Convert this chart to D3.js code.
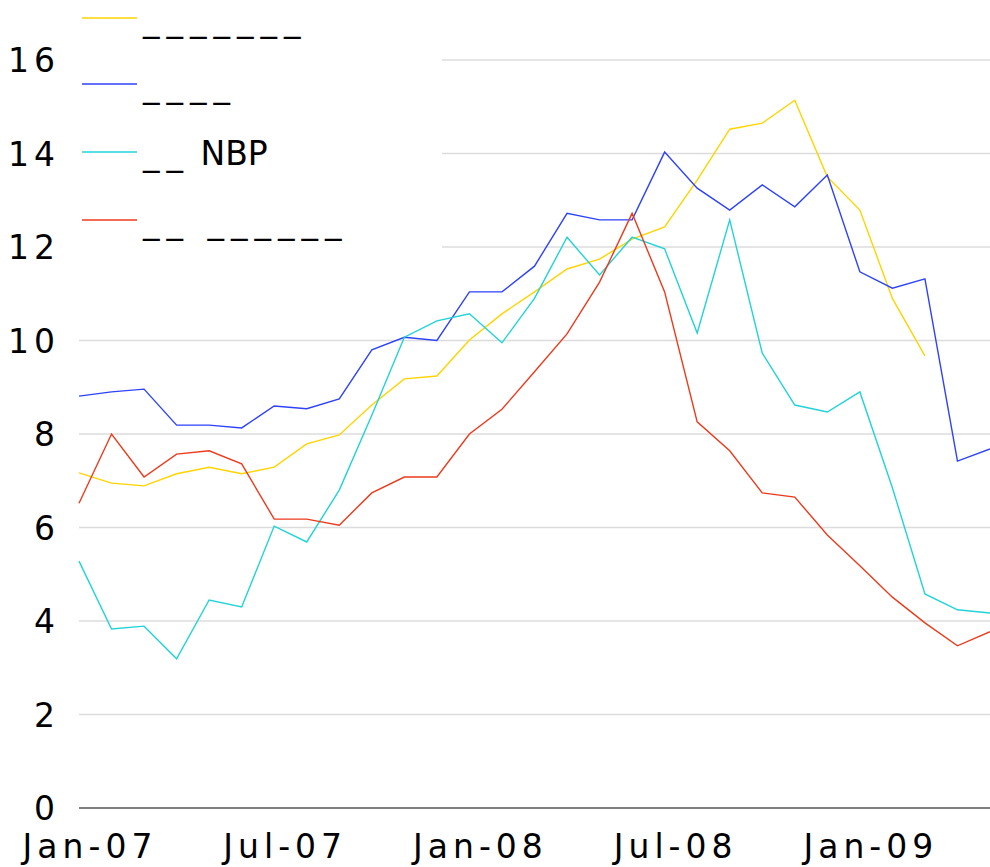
<!DOCTYPE html>
<html lang="en">
<head>
<meta charset="utf-8">
<title>Rates 2007-2009</title>
<script type="text/javascript" src="https://d3js.org/d3.v7.min.js"></script>
<style>
  body { margin: 0; background: #fff; }
  text { font-family: "DejaVu Sans", sans-serif; fill: #000; }
  .tick-label { font-size: 33px; letter-spacing: 5px; }
  .legend-label { font-size: 33px; }
  .grid { stroke: #dcdcdc; stroke-width: 1.5; }
  .series { fill: none; stroke-width: 1.4; stroke-linejoin: miter; }
</style>
</head>
<body>
<div id="chart"></div>
<script type="text/javascript">

// months Jan-07 .. May-09
var months = ["Jan-07","Feb-07","Mar-07","Apr-07","May-07","Jun-07","Jul-07","Aug-07","Sep-07","Oct-07","Nov-07","Dec-07",
              "Jan-08","Feb-08","Mar-08","Apr-08","May-08","Jun-08","Jul-08","Aug-08","Sep-08","Oct-08","Nov-08","Dec-08",
              "Jan-09","Feb-09","Mar-09","Apr-09","May-09"];
var xTickLabels = ["Jan-07","Jul-07","Jan-08","Jul-08","Jan-09"];
var yTicks = [0, 2, 4, 6, 8, 10, 12, 14, 16];

var legendNames = ["_______", "____", "__ NBP", "__ ______"];
var colors = ["#ffd400", "#2e42fa", "#22d3d8", "#ec3a1c"];

var yellowSeries = [7.17, 6.95, 6.89, 7.15, 7.29, 7.15, 7.29, 7.79, 7.98, 8.62, 9.18, 9.24, 10.01, 10.57, 11.04, 11.53, 11.74, 12.17, 12.43, 13.43, 14.52, 14.65, 15.14, 13.5, 12.79, 10.9, 9.67];
var blueSeries = [8.81, 8.9, 8.96, 8.19, 8.19, 8.13, 8.6, 8.54, 8.75, 9.8, 10.07, 10.0, 11.04, 11.04, 11.59, 12.72, 12.58, 12.58, 14.03, 13.26, 12.79, 13.33, 12.86, 13.54, 11.47, 11.12, 11.32, 7.42, 7.68];
var cyanSeries = [5.28, 3.83, 3.89, 3.19, 4.45, 4.30, 6.03, 5.69, 6.80, 8.4, 10.07, 10.42, 10.57, 9.95, 10.9, 12.21, 11.4, 12.21, 11.96, 10.16, 12.58, 9.73, 8.62, 8.47, 8.9, 6.85, 4.58, 4.24, 4.17];
var redSeries = [6.52, 8.0, 7.08, 7.57, 7.64, 7.36, 6.18, 6.18, 6.05, 6.74, 7.08, 7.08, 8.0, 8.53, 9.33, 10.14, 11.25, 12.72, 11.04, 8.26, 7.64, 6.74, 6.65, 5.84, 5.18, 4.51, 3.96, 3.47, 3.77];

var allSeries = [yellowSeries, blueSeries, cyanSeries, redSeries];

var w = 990;
var h = 867;

var svg = d3.select("div#chart").append("svg")
  .attr("width", w)
  .attr("height", h);

var x = d3.scaleLinear()
  .domain([0, months.length - 1])
  .range([79, 990]);

var y = d3.scaleLinear()
  .domain([0, 16])
  .range([808, 60]);

// grid
svg.append("g").selectAll("line")
  .data(yTicks.filter(function(d) { return d > 0; }))
  .enter()
  .append("line")
  .attr("class", "grid")
  .attr("x1", x.range()[0]).attr("x2", x.range()[1])
  .attr("y1", function(d) { return y(d); })
  .attr("y2", function(d) { return y(d); });

// legend background hides the grid behind it
svg.append("rect")
  .attr("x", 60).attr("y", 0)
  .attr("width", 382).attr("height", 290)
  .attr("fill", "#fff");

// baseline
svg.append("line")
  .attr("x1", x.range()[0]).attr("x2", x.range()[1])
  .attr("y1", y(0)).attr("y2", y(0))
  .attr("stroke", "#000").attr("stroke-width", 1.2);

// y labels
svg.append("g").selectAll("text")
  .data(yTicks)
  .enter()
  .append("text")
  .attr("class", "tick-label")
  .attr("text-anchor", "end")
  .attr("x", 60)
  .attr("y", function(d) { return y(d) + 12; })
  .text(function(d) { return d; });

// x labels
svg.append("g").selectAll("text")
  .data(xTickLabels)
  .enter()
  .append("text")
  .attr("class", "tick-label")
  .attr("text-anchor", "middle")
  .attr("x", function(d) { return x(months.indexOf(d)) + 11; })
  .attr("y", 858)
  .text(function(d) { return d; });

// lines
var line = d3.line()
  .x(function(d, i) { return x(i); })
  .y(function(d) { return y(d); });

svg.append("g").selectAll("path")
  .data(allSeries)
  .enter()
  .append("path")
  .attr("class", "series")
  .attr("stroke", function(d, i) { return colors[i]; })
  .attr("d", line);

// legend
var legendY = [18, 84, 152, 220];
var legend = svg.append("g").attr("id", "legend");
legendNames.forEach(function(name, i) {
  legend.append("line")
    .attr("x1", 82).attr("x2", 137)
    .attr("y1", legendY[i]).attr("y2", legendY[i])
    .attr("stroke", colors[i]).attr("stroke-width", 1.4);
  var t = legend.append("text")
    .attr("class", "legend-label")
    .attr("x", 143)
    .attr("y", legendY[i] + 13);
  // underscores get spacing so they stay separate dashes
  name.split(" ").forEach(function(part, j) {
    t.append("tspan")
      .attr("letter-spacing", part.indexOf("_") >= 0 ? "7px" : "0px")
      .text((j > 0 ? " " : "") + part);
  });
});

</script>
</body>
</html>
